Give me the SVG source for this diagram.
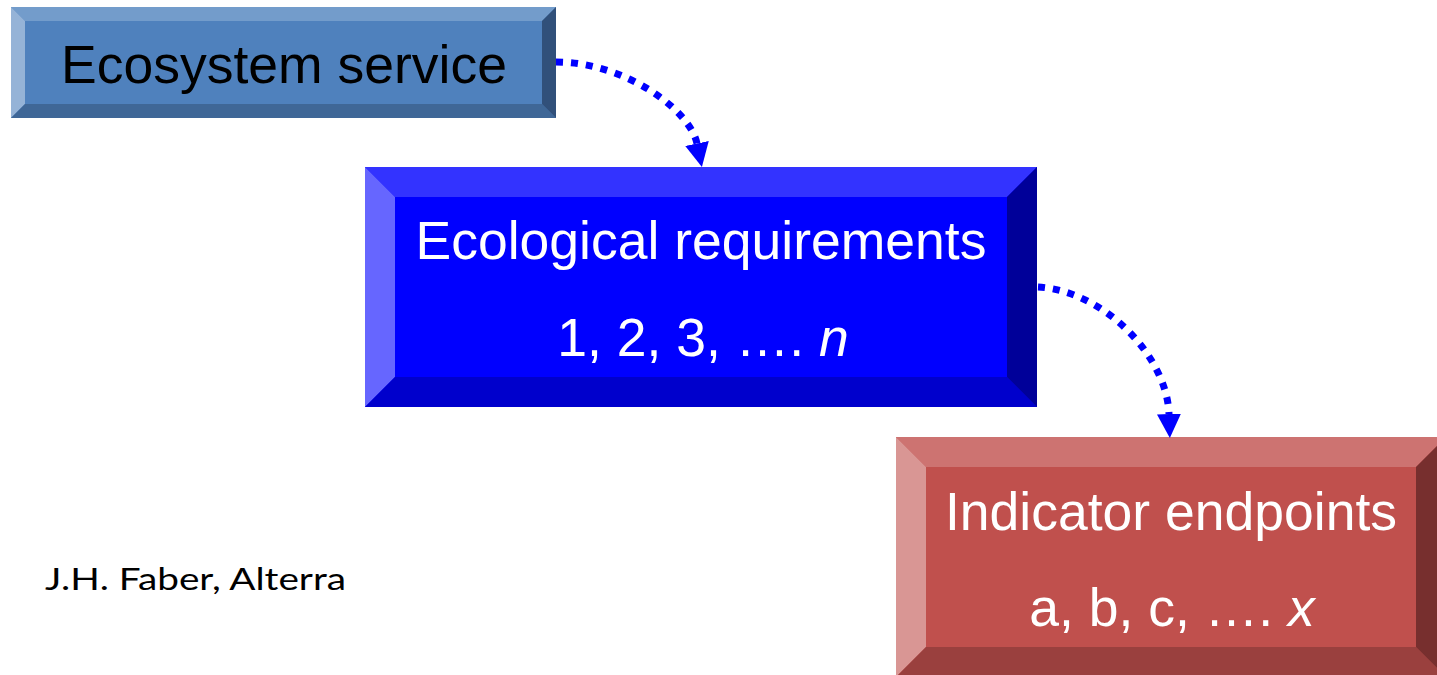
<svg xmlns="http://www.w3.org/2000/svg" width="1437" height="675" viewBox="0 0 1437 675">
<style>
.t{font-family:"Liberation Sans",Arial,sans-serif;font-size:53.5px;text-anchor:middle}
.w{fill:#FFFFFF}
.conn{fill:none;stroke:#0000FF;stroke-width:7;stroke-dasharray:7 8}
.author{font-family:Lato,"Open Sans",sans-serif;font-size:31px;fill:#000000}
</style>
<defs>
<marker id="ah" markerUnits="userSpaceOnUse" markerWidth="24" markerHeight="24" refX="0" refY="12" orient="auto" viewBox="0 0 24 24">
<path d="M0,0 L24,12 L0,24 Z" fill="#0000FF"/>
</marker>
</defs>
<rect width="1437" height="675" fill="#FFFFFF"/>
<g id="node-ecosystem-service">
<rect x="11" y="7" width="545" height="111" fill="#4F81BD"/>
<polygon points="11,7 556,7 542,21 25,21" fill="#739CCB"/>
<polygon points="11,7 25,21 25,104 11,118" fill="#95B3D7"/>
<polygon points="11,118 25,104 542,104 556,118" fill="#3F6797"/>
<polygon points="556,7 556,118 542,104 542,21" fill="#31507A"/>
<text class="t" x="284" y="83" font-size="53.5">Ecosystem service</text>
</g>
<g id="node-ecological-requirements">
<rect x="365" y="167" width="672" height="240" fill="#0000FF"/>
<polygon points="365,167 1037,167 1007,197 395,197" fill="#3333FF"/>
<polygon points="365,167 395,197 395,377 365,407" fill="#6666FF"/>
<polygon points="365,407 395,377 1007,377 1037,407" fill="#0000CC"/>
<polygon points="1037,167 1037,407 1007,377 1007,197" fill="#000099"/>
<text class="t w" x="701" y="259">Ecological requirements</text>
<text class="t w" x="703" y="356">1, 2, 3, …. <tspan font-style="italic">n</tspan></text>
</g>
<g id="node-indicator-endpoints">
<rect x="896" y="437" width="550" height="240" fill="#C0504D"/>
<polygon points="896,437 1446,437 1416,467 926,467" fill="#CD7371"/>
<polygon points="896,437 926,467 926,647 896,677" fill="#D99694"/>
<polygon points="896,677 926,647 1416,647 1446,677" fill="#9A403E"/>
<polygon points="1446,437 1446,677 1416,647 1416,467" fill="#772F2E"/>
<text class="t w" x="1171" y="530">Indicator endpoints</text>
<text class="t w" x="1172" y="626">a, b, c, …. <tspan font-style="italic">x</tspan></text>
</g>
<g id="connectors">
<path class="conn" d="M556,62 C625,62 690,110 697,143.5" marker-end="url(#ah)"/>
<path class="conn" d="M1038,287 C1105,291 1167,357 1169,414" marker-end="url(#ah)"/>
</g>
<text class="author" x="45" y="590" textLength="301" lengthAdjust="spacingAndGlyphs">J.H. Faber, Alterra</text>
</svg>
